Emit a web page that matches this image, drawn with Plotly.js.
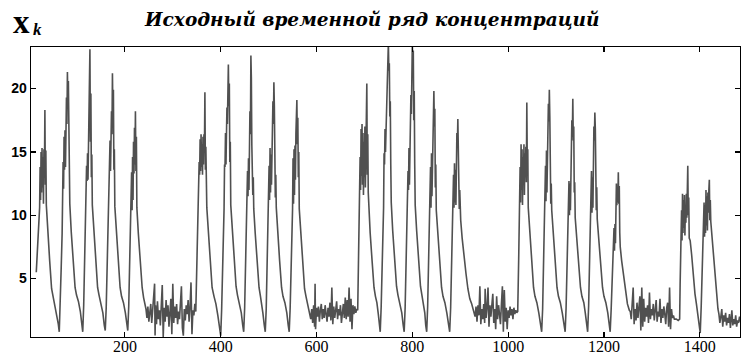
<!DOCTYPE html>
<html><head><meta charset="utf-8">
<script src="https://cdn.plot.ly/plotly-3.0.1.min.js"></script>
<style>html,body{margin:0;padding:0;background:#fff}#chart{width:749px;height:356px}</style>
</head><body><div id="chart"></div>
<script>
// Group 1 of peaks (time index, concentration)
const g1t=[15,17,19,22,23,24,25,26,27,28,29,30,31,32,33,34,35,36,39,43,47,50,54,58,61,63,
65,67,69,70,71,72,73,74,75,76,77,78,79,80,81,82,83,84,85,88,92,96,99,103,107,110,112,
114,116,118,119,120,121,122,123,124,125,126,127,128,129,130,131,132,135,139,143,146,150,154,157,159,
161,163,165,166,167,168,169,170,171,172,173,174,175,176,177,178,179,182,186,190,193,197,201,204,206,
208,210,212,213,214,215,216,217,218,219,220,221,222,223,224,225,228,232,236,239,242];
const g1v=[5.5,7.2,8.9,10.6,13.8,11.2,15.0,11.8,15.3,12.2,14.6,10.9,15.2,13.0,18.3,12.4,15.1,10.8,8.6,6.4,4.2,3.6,3.1,2.3,1.4,0.8,
2.8,5.8,8.6,10.4,14.2,12.1,16.2,13.6,16.7,13.8,16.4,19.3,17.2,21.3,19.0,20.6,14.1,15.8,10.9,8.7,6.5,4.3,3.7,3.2,2.4,1.4,0.8,
2.9,5.9,8.7,10.5,13.9,12.7,14.9,12.8,16.2,15.5,20.8,23.1,15.8,19.6,13.0,14.8,10.8,8.8,6.6,4.3,3.7,3.1,2.3,1.3,0.9,
2.7,5.7,8.6,10.5,13.6,13.3,15.9,13.5,15.6,18.2,16.4,21.2,18.0,19.9,13.6,15.2,10.7,8.7,6.5,4.3,3.6,3.1,2.3,1.4,0.9,
2.8,5.8,8.7,10.3,13.4,10.4,14.6,11.2,15.8,13.3,16.9,14.0,18.2,13.5,16.2,10.6,8.6,6.4,4.3,3.5,3.0];
// Noise 1
const n1t=[244,246,248,250,252,254,256,258,260,262,263,264,266,268,270,272,274,276,278,280,282,284,286,288,290,292,294,296,298,300,302,304,306,308,310,312,314,316,318,320,322,324,326,328,330,332,334,336,338,340,342,344,346];
const n1v=[2.6,1.9,2.8,1.6,2.3,3.0,1.5,2.7,3.4,4.6,0.5,2.9,1.4,3.2,1.8,2.5,1.3,3.1,4.5,0.4,2.7,1.6,3.3,2.0,2.9,1.2,2.6,3.4,0.6,4.6,1.5,2.8,1.9,3.0,1.4,2.4,1.8,3.2,4.4,1.1,0.5,2.6,1.7,2.9,2.2,3.3,1.6,2.8,4.7,0.6,2.5,2.1,3.0];
// Group 2
const g2t=[348,350,352,354,355,356,357,358,359,360,361,362,363,364,365,366,367,368,369,371,374,378,382,386,390,394,397,400,
402,404,406,407,408,409,410,411,412,413,414,415,416,417,418,419,420,421,424,428,432,435,439,443,446,448,
450,452,454,455,456,457,458,459,460,461,462,463,464,465,466,467,468,469,472,476,480,483,486,488,491,493,
495,497,499,500,501,502,503,504,505,506,507,508,509,510,511,512,513,514,515,516,519,523,527,530,534,538,541,543,
545,547,549,550,551,552,553,554,555,556,557,558,559,560,561,562,563,564,567,571,575,578,581,584];
const g2v=[2.4,5.5,8.8,10.4,14.2,13.2,16.0,13.5,16.4,13.8,15.6,13.2,16.2,14.0,16.4,15.0,19.7,13.6,15.4,10.6,8.7,6.5,4.3,3.6,3.0,2.1,1.2,0.5,
2.6,5.6,8.6,10.5,14.0,13.8,16.5,14.0,16.3,18.5,17.2,21.0,21.9,18.6,20.4,14.2,15.8,10.8,8.8,6.6,4.4,3.7,3.1,2.3,1.3,0.8,
2.7,5.7,8.7,10.6,13.5,11.5,14.5,12.0,15.6,18.2,16.4,22.6,20.8,15.5,14.2,11.6,13.0,10.5,8.6,6.4,4.3,3.6,3.0,2.3,1.3,0.8,
2.6,5.7,8.6,10.7,13.9,11.2,15.3,11.8,14.8,12.4,15.2,17.4,19.0,17.2,20.5,18.6,15.0,11.4,13.2,10.6,8.6,6.4,4.3,3.6,3.1,2.3,1.3,0.8,
2.7,5.8,8.7,10.5,14.5,10.9,15.2,11.6,15.5,12.8,16.5,17.6,19.1,15.6,17.7,13.0,15.0,10.5,8.6,6.4,4.2,3.6,3.1,2.7];
// Noise 2
const n2t=[586,588,590,592,594,596,597,598,600,602,604,606,608,610,612,614,616,618,620,622,624,626,628,630,632,634,636,638,640,642,644,646,648,650,652,654,656,658,660,662,664,666,668,670,672,674,676,678,680,682,684,686];
const n2v=[2.4,1.8,2.6,1.5,2.9,1.2,4.6,1.0,2.7,2.0,2.8,1.6,2.5,3.0,1.8,2.6,1.9,2.9,2.2,1.6,2.7,2.0,3.1,1.7,4.3,1.4,2.8,1.9,2.5,3.2,1.8,2.6,2.1,2.9,1.5,2.4,3.0,1.9,3.5,1.8,3.3,2.0,4.3,1.6,3.4,1.0,2.9,2.2,2.8,2.3,2.6,2.5];
// Group 3
const g3t=[688,690,691,692,693,694,695,696,697,698,699,700,701,702,703,704,705,706,707,708,709,712,716,720,723,726,729,731,733,
735,737,739,740,741,742,743,744,745,746,747,748,749,750,751,752,753,754,755,756,759,763,767,770,774,778,781,783,
785,787,789,790,791,792,793,794,795,796,797,798,799,800,801,802,803,804,805,806,809,813,817,820,823,826,828,830,
832,834,836,837,838,839,840,841,842,843,844,845,846,847,848,849,850,853,857,861,864,868,872,875,878,
880,882,884,885,886,887,888,889,890,891,892,893,894,895,896,897,898,899,901,904,908,912,916,920,924,927];
const g3v=[6.2,10.4,14.6,12.0,16.8,13.1,17.2,12.4,16.5,11.6,15.8,13.0,17.0,12.2,16.1,14.5,20.4,13.2,16.4,11.8,10.5,8.6,6.4,4.3,3.6,3.1,2.2,1.3,0.8,
2.8,5.8,8.7,10.6,14.9,14.0,16.8,15.0,16.5,18.0,19.1,20.4,22.4,23.6,21.4,22.0,17.8,19.0,14.0,11.0,8.8,6.6,4.4,3.7,3.1,2.3,1.3,0.8,
2.7,5.8,8.7,10.5,13.5,12.0,15.3,12.4,15.0,16.5,19.5,18.0,22.0,23.6,21.4,23.0,17.5,19.8,14.0,10.8,8.8,6.6,4.4,3.7,3.1,2.3,1.3,0.8,
2.8,6.0,9.0,10.2,13.8,10.6,14.9,11.5,14.2,17.2,18.8,19.8,17.0,18.4,12.2,14.0,10.4,8.6,6.4,4.3,3.6,3.1,2.3,1.3,0.8,
2.7,5.8,8.7,10.4,13.2,10.6,14.1,11.0,13.6,10.8,14.0,16.5,15.5,17.6,13.4,14.1,10.5,12.0,9.6,8.2,6.6,5.4,4.2,3.4,3.0,2.6];
// Noise 3
const n3t=[929,931,933,935,937,939,941,943,945,947,949,951,952,954,956,958,960,962,964,966,968,970,972,974,976,978,980,982,984,986,988,990,992,994,996,998,1000,1002,1004,1006,1008,1010,1012,1014,1016,1018];
const n3v=[2.4,2.0,2.8,1.6,2.9,2.1,4.4,1.4,2.6,1.8,3.0,1.5,4.2,1.9,2.7,4.3,1.2,2.9,2.0,3.1,3.8,1.5,2.6,1.0,3.6,1.8,2.9,2.2,1.4,3.0,4.4,0.8,4.1,1.6,2.7,1.0,2.5,1.9,2.8,2.1,2.6,1.8,2.7,2.2,2.5,2.3];
// Group 4
const g4t=[1020,1022,1024,1025,1026,1027,1028,1029,1030,1031,1032,1033,1034,1035,1036,1037,1038,1039,1040,1041,1042,1045,1049,1053,1056,1060,1064,1067,1070,
1072,1074,1076,1077,1078,1079,1080,1081,1082,1083,1084,1085,1086,1087,1088,1089,1090,1091,1094,1098,1102,1105,1109,1113,1116,1119,
1121,1123,1125,1126,1127,1128,1129,1130,1131,1132,1133,1134,1135,1136,1137,1138,1139,1140,1143,1147,1151,1154,1158,1161,1164,1166,
1168,1170,1172,1173,1174,1175,1176,1177,1178,1179,1180,1181,1182,1183,1184,1185,1186,1189,1193,1197,1200,1204,1208,1211,1213,
1215,1217,1219,1220,1221,1222,1223,1224,1225,1226,1227,1228,1229,1230,1231,1232,1233,1234,1237,1241,1245,1249,1253];
const g4v=[2.4,6.5,10.3,13.8,11.0,15.6,12.0,15.2,10.8,14.6,12.4,15.6,11.6,14.9,13.0,15.4,12.6,18.9,13.8,15.2,10.6,8.6,6.5,4.3,3.6,3.1,2.3,1.3,0.8,
2.6,5.7,8.6,10.7,13.9,11.1,15.1,11.8,14.6,17.2,18.8,17.4,19.9,17.8,14.2,10.9,12.5,10.4,8.6,6.4,4.3,3.6,3.1,2.3,1.3,0.8,
2.7,5.8,8.6,9.8,12.7,10.0,12.5,10.4,14.6,16.0,17.5,16.2,19.2,15.9,17.0,11.8,12.6,9.8,8.2,6.2,4.3,3.6,3.1,2.3,1.3,0.8,
2.8,5.9,8.6,9.8,13.5,10.2,13.0,10.6,15.9,17.0,15.9,18.1,16.8,13.0,10.4,12.2,9.7,8.2,6.2,4.3,3.6,3.1,2.3,1.3,0.8,
2.5,4.8,6.6,7.4,9.0,7.2,9.3,7.8,10.6,12.5,10.8,12.2,11.0,13.4,10.9,12.3,8.6,7.5,6.4,5.2,4.0,3.0,2.5];
// Noise 4
const n4t=[1255,1257,1259,1261,1263,1265,1267,1269,1271,1273,1275,1277,1279,1281,1283,1285,1287,1289,1291,1293,1295,1297,1299,1301,1303,1305,1307,1309,1311,1313,1315,1317,1319,1321,1323,1325,1327,1329,1331,1333,1335,1337,1339,1341,1343,1345,1347,1351,1355,1358];
const n4v=[2.4,1.8,2.9,4.3,1.4,2.6,1.7,3.1,1.9,2.8,3.6,0.9,4.3,1.2,3.4,1.6,2.7,2.0,2.9,1.5,3.9,1.8,2.6,2.1,3.0,1.7,2.5,3.3,1.6,2.4,2.0,3.4,1.5,2.6,1.9,2.8,2.2,1.4,2.7,3.1,1.2,4.3,1.0,2.6,1.9,2.1,1.8,1.8,1.7,1.8];
// Group 5
const g5t=[1359,1361,1362,1363,1364,1365,1366,1367,1368,1369,1370,1371,1372,1373,1374,1375,1376,1377,1378,1380,1383,1387,1390,1393,1396,1398,1401,
1403,1405,1407,1408,1409,1410,1411,1412,1413,1414,1415,1416,1417,1418,1419,1420,1421,1422,1423,1426,1429,1432,1435,1438];
const g5v=[4.5,8.2,10.4,8.0,11.7,8.6,11.2,9.0,11.6,8.4,10.8,9.4,11.7,9.8,11.0,13.9,10.0,11.4,8.2,8.0,6.9,5.0,3.8,3.0,2.0,1.3,0.7,
2.8,5.6,7.8,9.0,11.0,8.3,10.8,8.6,12.0,9.2,11.5,8.8,11.8,10.2,12.0,12.8,9.6,11.2,9.5,8.0,7.0,5.2,3.6,2.6];
// Noise 5
const n5t=[1440,1442,1444,1446,1448,1450,1452,1454,1456,1458,1460,1462,1464,1466,1467,1469,1471,1473,1475,1477,1479,1481,1483,1485];
const n5v=[2.2,1.5,2.0,2.6,1.2,2.1,1.6,2.3,1.3,1.9,1.5,2.2,1.1,2.0,2.5,1.3,1.8,1.4,2.1,1.2,1.7,1.5,2.0,1.6];

const xTicks=[200,400,600,800,1000,1200,1400];
const yTicks=[5,10,15,20];

const t=[].concat(g1t,n1t,g2t,n2t,g3t,n3t,g4t,n4t,g5t,n5t);
const v=[].concat(g1v,n1v,g2v,n2v,g3v,n3v,g4v,n4v,g5v,n5v);

const axisCommon={showline:true,linecolor:'#000',linewidth:1.3,mirror:'ticks',ticks:'inside',ticklen:5,tickwidth:1.2,tickcolor:'#000',showgrid:false,zeroline:false,automargin:false};
const layout={
  width:749,height:356,margin:{l:31,r:9,t:47,b:19,pad:0},
  paper_bgcolor:'#fff',plot_bgcolor:'#fff',showlegend:false,
  title:{text:'Исходный временной ряд концентраций',font:{family:'DejaVu Serif',size:18.5,weight:'bold',style:'italic',color:'#000'},xref:'container',x:0.497,xanchor:'center',yref:'container',y:0.945,yanchor:'middle'},
  xaxis:Object.assign({},axisCommon,{range:[4,1484],tickvals:xTicks,ticktext:xTicks.map(String),ticklabelstandoff:-6,tickfont:{family:'Liberation Serif',size:16,color:'#000'}}),
  yaxis:Object.assign({},axisCommon,{range:[0.39,23.28],tickvals:yTicks,ticktext:yTicks.map(String),tickfont:{family:'Liberation Sans',size:14,weight:'bold',color:'#000'}}),
  annotations:[
    {text:'x',xref:'paper',yref:'paper',x:-0.0282,y:1.0,xanchor:'left',yanchor:'bottom',showarrow:false,font:{family:'Liberation Serif',size:33,weight:'bold',color:'#000'},yshift:5},
    {text:'k',xref:'paper',yref:'paper',x:-0.0005,y:1.0,xanchor:'left',yanchor:'bottom',showarrow:false,font:{family:'Liberation Serif',size:17,weight:'bold',style:'italic',color:'#000'},yshift:6}
  ]
};
Plotly.newPlot('chart',[{x:t,y:v,type:'scatter',mode:'lines',line:{color:'#505050',width:1.6},hoverinfo:'skip'}],layout,{staticPlot:true,displayModeBar:false});
</script></body></html>
